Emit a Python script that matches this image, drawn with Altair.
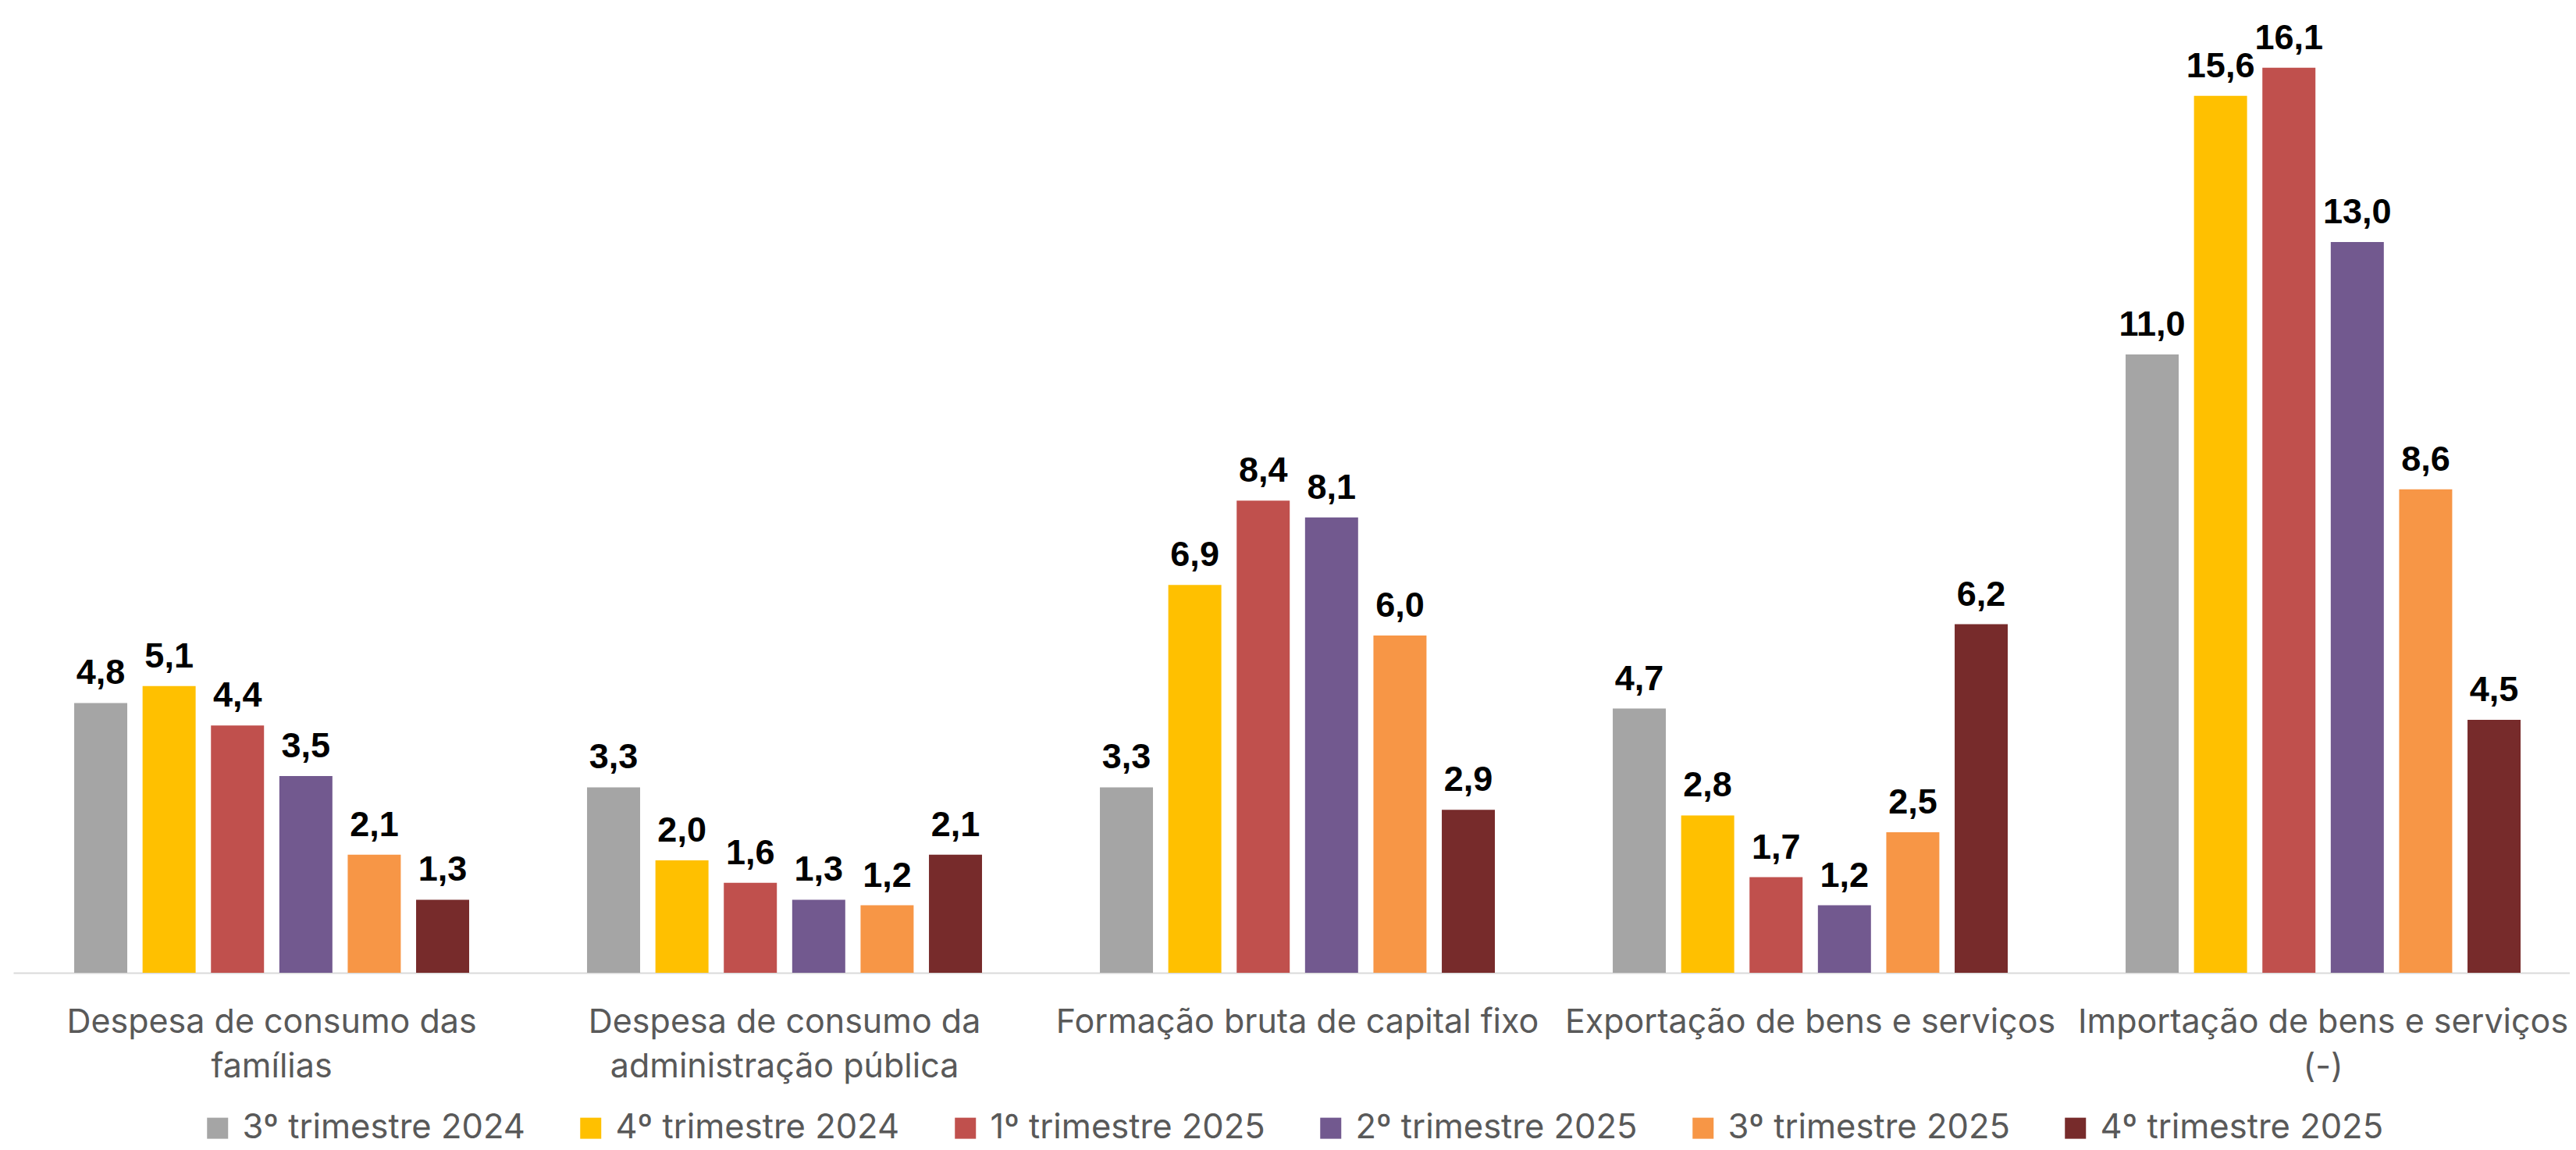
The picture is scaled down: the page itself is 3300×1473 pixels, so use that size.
import altair as alt
import pandas as pd

categories = [
    "Despesa de consumo das|famílias",
    "Despesa de consumo da|administração pública",
    "Formação bruta de capital fixo",
    "Exportação de bens e serviços",
    "Importação de bens e serviços|(-)",
]
series = [
    "3º trimestre 2024",
    "4º trimestre 2024",
    "1º trimestre 2025",
    "2º trimestre 2025",
    "3º trimestre 2025",
    "4º trimestre 2025",
]
colors = ["#A5A5A5", "#FFC000", "#C0504D", "#72598F", "#F79646", "#772B2B"]

t3_2024 = [4.8, 3.3, 3.3, 4.7, 11.0]
t4_2024 = [5.1, 2.0, 6.9, 2.8, 15.6]
t1_2025 = [4.4, 1.6, 8.4, 1.7, 16.1]
t2_2025 = [3.5, 1.3, 8.1, 1.2, 13.0]
t3_2025 = [2.1, 1.2, 6.0, 2.5, 8.6]
t4_2025 = [1.3, 2.1, 2.9, 6.2, 4.5]

values = [t3_2024, t4_2024, t1_2025, t2_2025, t3_2025, t4_2025]

rows = []
for s, vals in zip(series, values):
    for c, v in zip(categories, vals):
        rows.append({"cat": c, "serie": s, "v": v})
df = pd.DataFrame(rows)

FONT = "Inter"

x = alt.X(
    "cat:N",
    sort=categories,
    title=None,
    scale=alt.Scale(paddingInner=0.2, paddingOuter=0.0924, align=0.562),
    axis=alt.Axis(
        labelExpr="split(datum.value, '|')",
        labelAngle=0,
        labelFont=FONT,
        labelFontSize=43,
        labelColor="#595959",
        labelLineHeight=57,
        labelPadding=42,
        labelLimit=900,
        labelOverlap=False,
        ticks=False,
        domainColor="#D9D9D9",
        domainWidth=2,
        grid=False,
    ),
)
xoff = alt.XOffset(
    "serie:N",
    sort=series,
    scale=alt.Scale(paddingInner=0.224, paddingOuter=0.112),
)
y = alt.Y("v:Q", scale=alt.Scale(domain=[0, 17], nice=False), axis=None)

base = alt.Chart(df)

bars = base.mark_bar().encode(
    x=x,
    xOffset=xoff,
    y=y,
    color=alt.Color(
        "serie:N",
        sort=series,
        scale=alt.Scale(domain=series, range=colors),
        legend=alt.Legend(
            title=None,
            orient="none",
            direction="horizontal",
            columns=6,
            legendX=240,
            legendY=1401,
            symbolType="square",
            symbolSize=729,
            symbolStrokeWidth=0,
            labelFont=FONT,
            labelFontSize=43.5,
            labelColor="#595959",
            labelOffset=10,
            labelLimit=600,
            columnPadding=62,
        ),
    ),
)

labels = base.transform_calculate(
    lbl="replace(format(datum.v, '.1f'), '.', ',')"
).mark_text(
    font="Liberation Sans",
    fontWeight="bold",
    fontSize=45,
    color="#000000",
    baseline="alphabetic",
    dy=-24,
).encode(
    x=x,
    xOffset=xoff,
    y=y,
    text="lbl:N",
)

chart = (
    alt.layer(bars, labels)
    .properties(
        width=3275,
        height=1224,
        background="white",
        padding={"left": 9, "top": 14, "right": 0, "bottom": 225},
        autosize=alt.AutoSizeParams(type="none"),
    )
    .configure_view(strokeWidth=0, stroke="transparent")
)

chart.save("out.html", embed_options={"renderer": "svg", "actions": False})
